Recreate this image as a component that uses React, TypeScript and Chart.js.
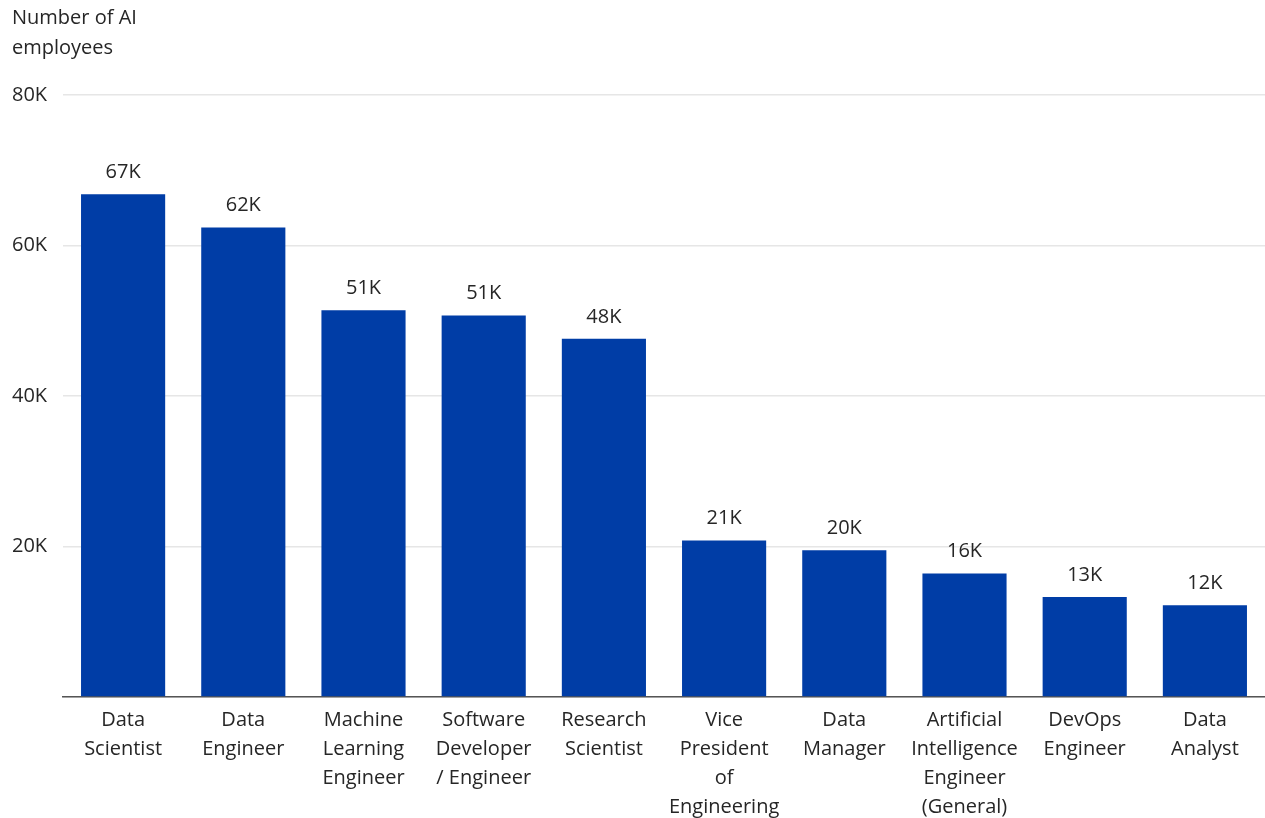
import React, { useEffect, useRef } from "react";
import { Chart, registerables } from "chart.js";

Chart.register(...registerables);

const categories: string[][] = [
  ["Data", "Scientist"],
  ["Data", "Engineer"],
  ["Machine", "Learning", "Engineer"],
  ["Software", "Developer", "/ Engineer"],
  ["Research", "Scientist"],
  ["Vice", "President", "of", "Engineering"],
  ["Data", "Manager"],
  ["Artificial", "Intelligence", "Engineer", "(General)"],
  ["DevOps", "Engineer"],
  ["Data", "Analyst"],
];

const employees: number[] = [66800, 62400, 51400, 50700, 47600, 20800, 19500, 16400, 13300, 12200];

const yTicks: number[] = [0, 20000, 40000, 60000, 80000];
const axisTitle: string[] = ["Number of AI", "employees"];

const FONT = "'Open Sans', sans-serif";
const FS = 20;
const TEXT = "#262626";
const BAR = "#003da6";

const fmtK = (v: number) => `${Math.round(v / 1000)}K`;

export default function App() {
  const ref = useRef<HTMLCanvasElement | null>(null);

  useEffect(() => {
    if (!ref.current) return;
    const labelPlugin = {
      id: "barLabels",
      afterDatasetsDraw(chart: any) {
        const ctx = chart.ctx;
        const meta = chart.getDatasetMeta(0);
        ctx.save();
        ctx.font = `${FS}px ${FONT}`;
        ctx.fillStyle = TEXT;
        ctx.textAlign = "center";
        ctx.textBaseline = "middle";
        meta.data.forEach((el: any, i: number) => {
          ctx.fillText(fmtK(employees[i]), el.x, el.y - 22);
        });
        ctx.restore();
      },
      afterDraw(chart: any) {
        const ctx = chart.ctx;
        ctx.save();
        ctx.font = `${FS}px ${FONT}`;
        ctx.fillStyle = TEXT;
        ctx.textAlign = "left";
        ctx.textBaseline = "middle";
        axisTitle.forEach((t, i) => ctx.fillText(t, 12, 18 + i * 30));
        ctx.restore();
      },
    };

    const chart = new Chart(ref.current, {
      type: "bar",
      data: {
        labels: categories,
        datasets: [
          {
            data: employees,
            backgroundColor: BAR,
            barPercentage: 0.7,
            categoryPercentage: 1,
          },
        ],
      },
      options: {
        animation: false,
        responsive: false,
        layout: { padding: { top: 95, left: 12, right: 0, bottom: 0 } },
        plugins: { legend: { display: false }, tooltip: { enabled: false } },
        scales: {
          x: {
            grid: { display: false, drawTicks: false },
            border: { display: true, color: "#555", width: 1.5 },
            ticks: {
              font: { family: FONT, size: FS, lineHeight: "29px" as any },
              color: TEXT,
              padding: 9,
              maxRotation: 0,
              autoSkip: false,
            },
            afterFit(scale: any) {
              scale.height = 121;
            },
          },
          y: {
            min: 0,
            max: 80000,
            afterBuildTicks(scale: any) {
              scale.ticks = yTicks.map((v) => ({ value: v }));
            },
            grid: { color: "#e6e6e6", lineWidth: 1.5, drawTicks: false },
            border: { display: false },
            ticks: {
              crossAlign: "far",
              font: { family: FONT, size: FS },
              color: TEXT,
              callback: (v: any) => (Number(v) === 0 ? "" : fmtK(Number(v))),
            },
            afterFit(scale: any) {
              scale.width = 51;
            },
          },
        },
      },
      plugins: [labelPlugin],
    });
    return () => chart.destroy();
  }, []);

  return (
    <div style={{ position: "absolute", left: 0, top: 0, width: 1265, height: 818, background: "#fff" }}>
      <canvas ref={ref} width={1265} height={818} />
    </div>
  );
}
